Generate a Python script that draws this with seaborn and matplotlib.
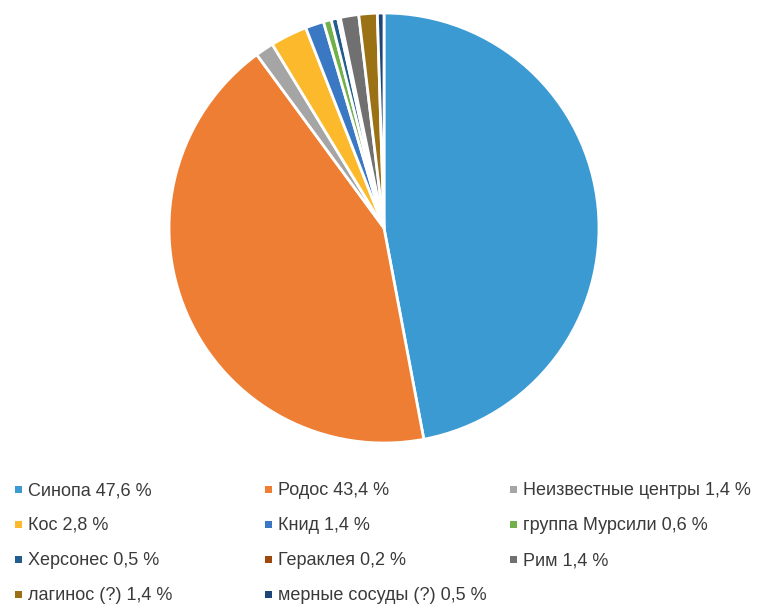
import matplotlib
matplotlib.use("Agg")
import matplotlib.pyplot as plt
import seaborn as sns
from matplotlib.patches import Rectangle

sns.set_theme(style="white")
plt.rcParams['font.family'] = ['Liberation Sans', 'DejaVu Sans']

categories = ["Синопа", "Родос", "Неизвестные центры", "Кос", "Книд",
              "группа Мурсили", "Херсонес", "Гераклея", "Рим",
              "лагинос (?)", "мерные сосуды (?)"]
values = [47.6, 43.4, 1.4, 2.8, 1.4, 0.6, 0.5, 0.2, 1.4, 1.4, 0.5]
value_labels = ["47,6", "43,4", "1,4", "2,8", "1,4", "0,6", "0,5", "0,2", "1,4", "1,4", "0,5"]
colors = ["#3C9AD3", "#EE7E33", "#A5A5A5", "#FDB92C", "#3A78C4", "#72B04A",
          "#215E8F", "#9E480E", "#707070", "#9A7115", "#1F4678"]

W, H = 771, 606
fig = plt.figure(figsize=(W / 100, H / 100), dpi=100)
fig.patch.set_facecolor("white")

cx, cy, r = 384, 228, 215
pad = 4
ax = fig.add_axes([(cx - r - pad) / W, (H - cy - r - pad) / H,
                   (2 * r + 2 * pad) / W, (2 * r + 2 * pad) / H])
ax.pie(values, colors=colors, startangle=90, counterclock=False,
       wedgeprops=dict(edgecolor="white", linewidth=2.0))
lim = 1 + pad / r
ax.set_xlim(-lim, lim)
ax.set_ylim(-lim, lim)
ax.set_aspect("equal")
ax.axis("off")

col_x = [15, 265, 510]
row_y = [488, 523, 558, 593]
sq = 6.5
for i, (cat, lab, c) in enumerate(zip(categories, value_labels, colors)):
    col, row = i % 3, i // 3
    x, y = col_x[col], row_y[row]
    fig.patches.append(Rectangle((x / W, (H - y - 1.5 - sq / 2) / H), sq / W, sq / H,
                                 transform=fig.transFigure, facecolor=c,
                                 edgecolor="none"))
    fig.text((x + 13) / W, (H - y - 7) / H, f"{cat} {lab} %", fontsize=13,
             color="#3A3A3A", va="baseline", ha="left")

fig.savefig("out.png", dpi=100, facecolor="white")
